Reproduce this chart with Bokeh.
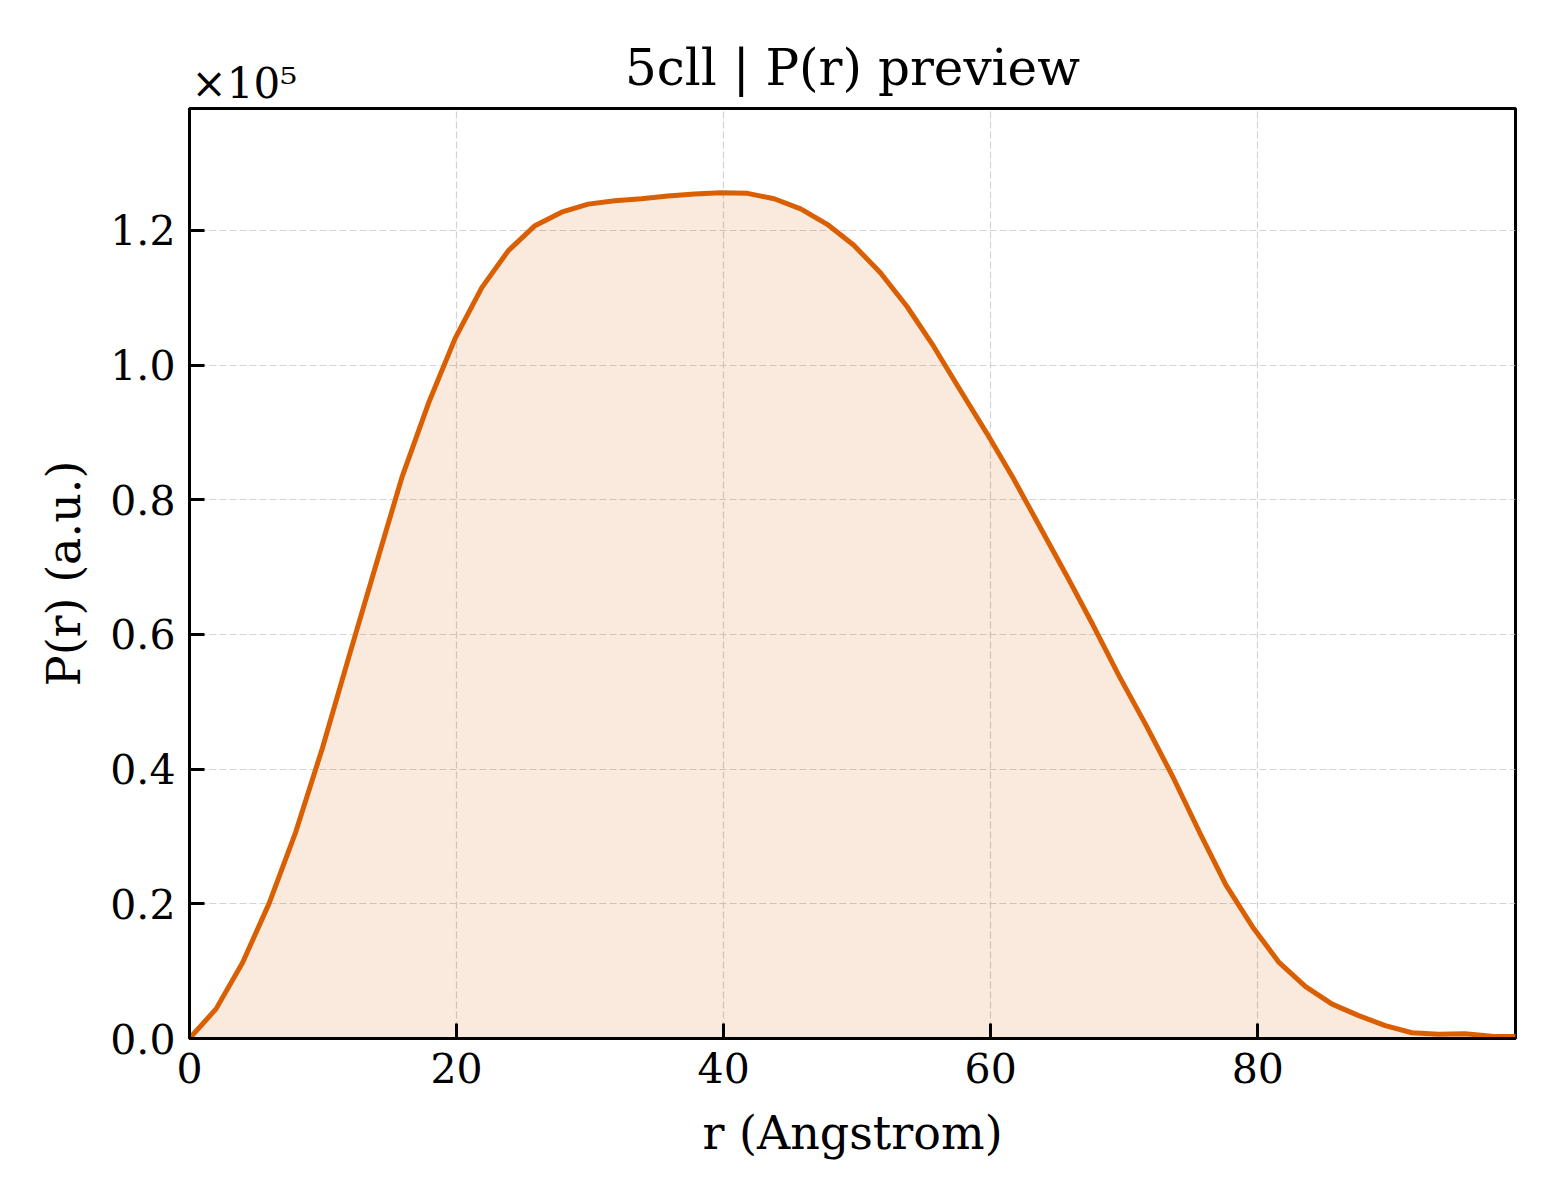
from bokeh.plotting import figure
from bokeh.models import Title, CustomJSTickFormatter, FixedTicker, Range1d
from bokeh.embed import file_html
from bokeh.resources import INLINE
import numpy as np

# r (Angstrom) and P(r) (a.u.)
r = [0.0, 1.99, 3.98, 5.97, 7.96, 9.95, 11.94, 13.93, 15.92, 17.91,
     19.9, 21.89, 23.88, 25.87, 27.86, 29.85, 31.84, 33.83, 35.82, 37.81,
     39.8, 41.79, 43.78, 45.77, 47.76, 49.75, 51.74, 53.73, 55.72, 57.71,
     59.7, 61.69, 63.68, 65.67, 67.66, 69.65, 71.64, 73.63, 75.62, 77.61,
     79.6, 81.59, 83.58, 85.57, 87.56, 89.55, 91.54, 93.53, 95.52, 97.51,
     99.5]
pr = [0, 4400, 11300, 20100, 30700, 43100, 56700, 70100, 83400, 94400,
      104000, 111500, 117000, 120700, 122700, 123900, 124400, 124700, 125100, 125400,
      125600, 125500, 124700, 123200, 120900, 117800, 113700, 108700, 102800, 96300,
      89900, 83200, 76000, 68800, 61400, 53700, 46500, 38900, 30700, 22800,
      16600, 11300, 7700, 5100, 3400, 1900, 850, 640, 700, 350,
      300]

yticks = [0, 20000, 40000, 60000, 80000, 100000, 120000]
xticks = [0, 20, 40, 60, 80]

FONT = "DejaVu Serif"
LINE = "#d95f02"

p = figure(frame_width=1326, frame_height=930,
           min_border_left=189, min_border_right=37,
           min_border_top=108, min_border_bottom=154,
           x_range=Range1d(0, 99.3), y_range=Range1d(0, 138100),
           output_backend="svg", toolbar_location=None,
           title="5cll | P(r) preview")

p.varea(x=r, y1=np.zeros(len(pr)), y2=pr, fill_color=LINE, fill_alpha=0.13)
p.line(r, pr, line_color=LINE, line_width=5)

# offset text of the y axis, sitting just above the frame (nearest panel)
p.add_layout(Title(text="×10⁵", align="left", offset=2, standoff=1,
                   text_font=FONT, text_font_size="42px",
                   text_font_style="normal", text_color="black"), "above")

p.title.align = "center"
p.title.text_font = FONT
p.title.text_font_size = "50px"
p.title.text_font_style = "normal"
p.title.text_color = "black"
p.title.standoff = -80

p.xaxis.ticker = FixedTicker(ticks=xticks)
p.yaxis.ticker = FixedTicker(ticks=yticks)
p.yaxis.formatter = CustomJSTickFormatter(code="return (tick / 1e5).toFixed(1);")
p.xaxis.axis_label = "r (Angstrom)"
p.yaxis.axis_label = "P(r) (a.u.)"

for ax in (p.xaxis, p.yaxis):
    ax.axis_line_color = "black"
    ax.axis_line_width = 3
    ax.major_tick_in = 15
    ax.major_tick_out = 0
    ax.major_tick_line_width = 3
    ax.minor_tick_line_color = None
    ax.major_label_text_font = FONT
    ax.major_label_text_font_size = "41px"
    ax.major_label_text_color = "black"
    ax.axis_label_text_font = FONT
    ax.axis_label_text_font_size = "46px"
    ax.axis_label_text_font_style = "normal"
    ax.axis_label_text_color = "black"
p.xaxis.major_label_standoff = 14
p.yaxis.major_label_standoff = 14
p.xaxis.axis_label_standoff = 20
p.yaxis.axis_label_standoff = 16

p.outline_line_color = "black"
p.outline_line_width = 3
p.outline_line_alpha = 1

p.grid.grid_line_color = "#c8c8c8"
p.grid.grid_line_alpha = 0.8
p.grid.grid_line_dash = "7 3"
p.grid.grid_line_width = 1.2

open("out.html", "w").write(file_html(p, INLINE))
